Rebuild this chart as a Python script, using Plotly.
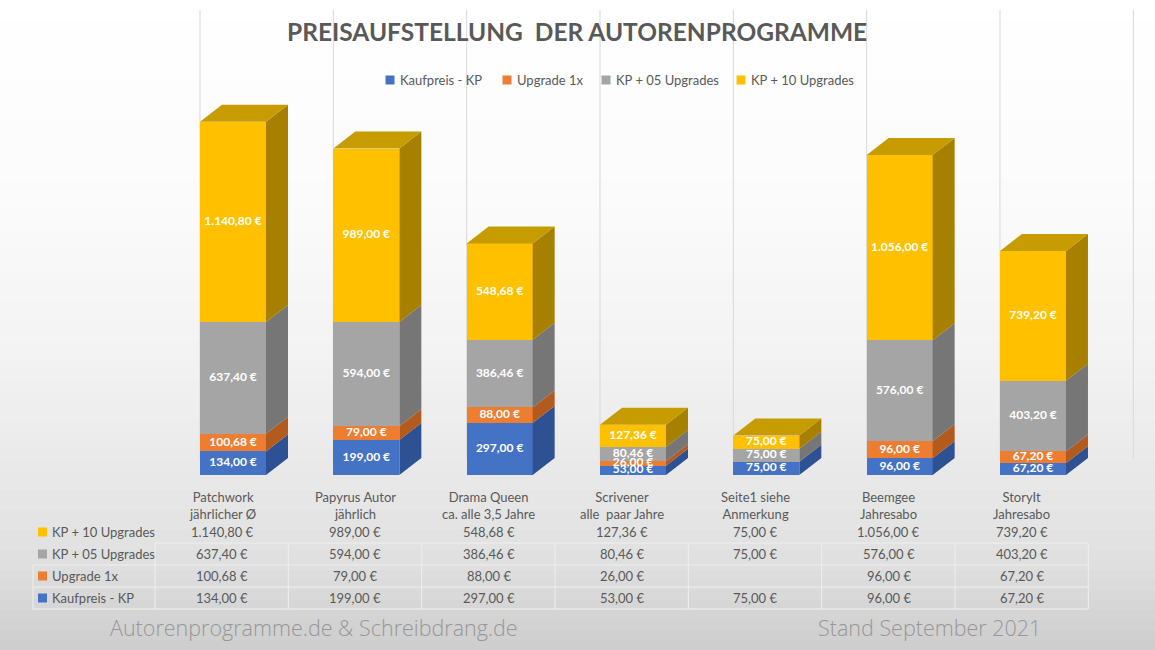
import plotly.graph_objects as go

# ---------------- data ----------------
categories = ["Patchwork<br>jährlicher Ø", "Papyrus Autor<br>jährlich", "Drama Queen<br>ca. alle 3,5 Jahre",
              "Scrivener<br>alle\u00a0 paar Jahre", "Seite1 siehe<br>Anmerkung", "Beemgee<br>Jahresabo",
              "StoryIt<br>Jahresabo"]
series_names = ["Kaufpreis - KP", "Upgrade 1x", "KP + 05 Upgrades", "KP + 10 Upgrades"]
kaufpreis = [134.00, 199.00, 297.00, 53.00, 75.00, 96.00, 67.20]
upgrade_1x = [100.68, 79.00, 88.00, 26.00, None, 96.00, 67.20]
kp_05_upgrades = [637.40, 594.00, 386.46, 80.46, 75.00, 576.00, 403.20]
kp_10_upgrades = [1140.80, 989.00, 548.68, 127.36, 75.00, 1056.00, 739.20]
title_text = "PREISAUFSTELLUNG\u00a0 DER AUTORENPROGRAMME"
footer_left = "Autorenprogramme.de & Schreibdrang.de"
footer_right = "Stand September 2021"

series_values = [kaufpreis, upgrade_1x, kp_05_upgrades, kp_10_upgrades]
front_colors = ["#4472C4", "#ED7D31", "#A5A5A5", "#FFC000"]
side_colors = ["#2D5193", "#B35A1F", "#767676", "#A88000"]
top_color = "#C69C00"

W, H = 1155, 650
STEP_PX = 133.33
C0_PX = 222.0
K = 5.70            # data units per pixel (vertical)
ZERO_PX = 475.0     # pixel row of value 0
XMIN = -C0_PX / STEP_PX
XMAX = XMIN + W / STEP_PX
YMIN = -(H - ZERO_PX) * K
YMAX = ZERO_PX * K
DX = 22 / STEP_PX   # depth offsets
DY = 17 * K
FRONT_L = -22 / STEP_PX
FRONT_W = 66 / STEP_PX


def px(xp):
    return xp / W


def py(yp):
    return 1 - yp / H


def de_eur(v):
    s = f"{v:,.2f}".replace(",", "X").replace(".", ",").replace("X", ".")
    return s + " €"


FONT = "Lato"
TXT = "#595959"

fig = go.Figure()
xs = list(range(len(categories)))

# front faces
for name, vals, col in zip(series_names, series_values, front_colors):
    fig.add_trace(go.Bar(x=xs, y=[v if v is not None else 0 for v in vals], name=name,
                         width=FRONT_W, offset=FRONT_L, marker=dict(color=col, line=dict(width=0)),
                         showlegend=False, hoverinfo="skip"))

# side faces, top faces and labels
bottoms = [0.0] * len(categories)
lab_x, lab_y, lab_t = [], [], []
for s, (vals, scol) in enumerate(zip(series_values, side_colors)):
    sx, sy = [], []
    for i, v in enumerate(vals):
        if v is None or v == 0:
            continue
        b = bottoms[i]
        t = b + v
        xr = i + FRONT_L + FRONT_W
        sx += [xr, xr + DX, xr + DX, xr, xr, None]
        sy += [b, b + DY, t + DY, t, b, None]
        lab_x.append(i + FRONT_L + FRONT_W / 2)
        lab_y.append((b + t) / 2)
        lab_t.append(de_eur(v))
        bottoms[i] = t
    fig.add_trace(go.Scatter(x=sx, y=sy, mode="lines", fill="toself", fillcolor=scol,
                             line=dict(width=0, color=scol), showlegend=False, hoverinfo="skip"))

tx, ty = [], []
for i, T in enumerate(bottoms):
    xl = i + FRONT_L
    xr = xl + FRONT_W
    tx += [xl, xr, xr + DX, xl + DX, xl, None]
    ty += [T, T, T + DY, T + DY, T, None]
fig.add_trace(go.Scatter(x=tx, y=ty, mode="lines", fill="toself", fillcolor=top_color,
                         line=dict(width=0, color=top_color), showlegend=False, hoverinfo="skip"))

fig.add_trace(go.Scatter(x=lab_x, y=lab_y, mode="text", text=lab_t,
                         textfont=dict(family=FONT, size=12, color="white", weight="bold"),
                         showlegend=False, hoverinfo="skip"))

shapes = []
# background gradient
stops = [(0, 255), (200, 251), (350, 243), (470, 233), (560, 224), (650, 205)]


def shade(y):
    for (y0, c0), (y1, c1) in zip(stops[:-1], stops[1:]):
        if y0 <= y <= y1:
            return c0 + (c1 - c0) * (y - y0) / (y1 - y0)
    return stops[-1][1]


band = 10
for yb in range(0, H, band):
    c = int(round(shade(yb + band / 2)))
    shapes.append(dict(type="rect", xref="paper", yref="paper", x0=0, x1=1,
                       y0=py(yb + band), y1=py(yb), fillcolor=f"rgb({c},{c},{c})",
                       line=dict(width=0), layer="below"))

# vertical gridlines
for i in range(len(categories) + 1):
    gx = i + FRONT_L
    shapes.append(dict(type="line", xref="x", yref="y", x0=gx, x1=gx, y0=DY, y1=(ZERO_PX - 10) * K,
                       line=dict(color="#d9d9d9", width=1), layer="below"))

annotations = []
annotations.append(dict(text=title_text, x=px(577), y=py(32), xref="paper", yref="paper",
                        showarrow=False, xanchor="center", yanchor="middle",
                        font=dict(family=FONT, size=24.5, color=TXT, weight="bold")))

# legend (manual)
leg_sq = [390, 507, 606, 741]
for name, col, sx0 in zip(series_names, front_colors, leg_sq):
    shapes.append(dict(type="rect", xref="paper", yref="paper", x0=px(sx0 - 4.5), x1=px(sx0 + 4.5),
                       y0=py(84.5), y1=py(75.5), fillcolor=col, line=dict(width=0)))
    annotations.append(dict(text=name, x=px(sx0 + 8), y=py(80), xref="paper", yref="paper",
                            showarrow=False, xanchor="left", yanchor="middle",
                            font=dict(family=FONT, size=13, color=TXT)))

# data table
row_y = {3: 532, 2: 554, 1: 576, 0: 598}
for s in range(4):
    yy = row_y[s]
    shapes.append(dict(type="rect", xref="paper", yref="paper", x0=px(38), x1=px(47),
                       y0=py(yy + 4.5), y1=py(yy - 4.5), fillcolor=front_colors[s], line=dict(width=0)))
    annotations.append(dict(text=series_names[s], x=px(50), y=py(yy), xref="paper", yref="paper",
                            showarrow=False, xanchor="left", yanchor="middle",
                            font=dict(family=FONT, size=13, color=TXT)))
    for i, v in enumerate(series_values[s]):
        if v is None:
            continue
        annotations.append(dict(text=de_eur(v), x=i, y=py(yy), xref="x", yref="paper",
                                showarrow=False, xanchor="center", yanchor="middle",
                                font=dict(family=FONT, size=13, color=TXT)))
for i, c in enumerate(categories):
    annotations.append(dict(text=c, x=i, y=py(505), xref="x", yref="paper",
                            showarrow=False, xanchor="center", yanchor="middle",
                            font=dict(family=FONT, size=13, color=TXT)))

line_col = "#efefef"
tab_l, tab_d, tab_r = 33, 155, 1088
shapes.append(dict(type="line", xref="paper", yref="paper", x0=px(tab_d), x1=px(tab_r),
                   y0=py(543), y1=py(543), line=dict(color=line_col, width=1)))
for yl in [565, 587, 609]:
    shapes.append(dict(type="line", xref="paper", yref="paper", x0=px(tab_l), x1=px(tab_r),
                       y0=py(yl), y1=py(yl), line=dict(color=line_col, width=1)))
shapes.append(dict(type="line", xref="paper", yref="paper", x0=px(tab_l), x1=px(tab_l),
                   y0=py(565), y1=py(609), line=dict(color=line_col, width=1)))
for i in range(len(categories) + 1):
    xv = tab_d + i * STEP_PX
    shapes.append(dict(type="line", xref="paper", yref="paper", x0=px(xv), x1=px(xv),
                       y0=py(543), y1=py(609), line=dict(color=line_col, width=1)))

# footer
annotations.append(dict(text=footer_left, x=px(314), y=py(627), xref="paper", yref="paper",
                        showarrow=False, xanchor="center", yanchor="middle",
                        font=dict(family="Open Sans", size=21.5, color="#979797", weight=300)))
annotations.append(dict(text=footer_right, x=px(929), y=py(627), xref="paper", yref="paper",
                        showarrow=False, xanchor="center", yanchor="middle",
                        font=dict(family="Open Sans", size=21.5, color="#979797", weight=300)))

fig.update_layout(
    width=W, height=H, margin=dict(l=0, r=0, t=0, b=0),
    barmode="stack", bargap=0,
    paper_bgcolor="white", plot_bgcolor="rgba(0,0,0,0)",
    xaxis=dict(range=[XMIN, XMAX], visible=False, fixedrange=True),
    yaxis=dict(range=[YMIN, YMAX], visible=False, fixedrange=True),
    shapes=shapes, annotations=annotations, showlegend=False,
    font=dict(family=FONT, color=TXT),
)

fig.write_html("out.html", config={"displayModeBar": False},
               post_script="document.body.style.margin='0';document.body.style.overflow='hidden';")
